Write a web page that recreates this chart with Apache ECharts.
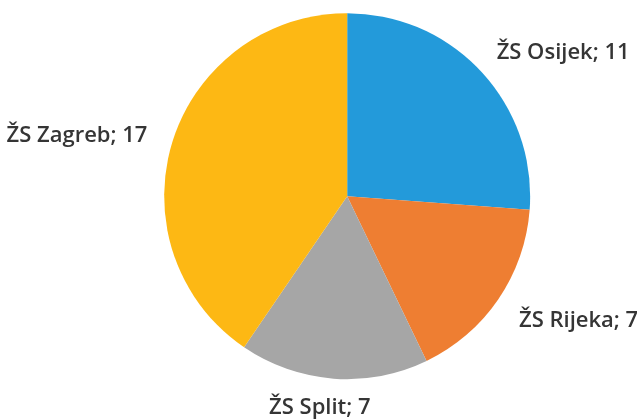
<!DOCTYPE html>
<html>
<head>
<meta charset="utf-8">
<script src="https://cdn.jsdelivr.net/npm/echarts@6/dist/echarts.min.js"></script>
<style>
html,body{margin:0;padding:0;background:#fff;}
#chart{width:637px;height:420px;}
</style>
</head>
<body>
<div id="chart"></div>
<script>
const categories = ['ŽS Osijek', 'ŽS Rijeka', 'ŽS Split', 'ŽS Zagreb'];
const values = [11, 7, 7, 17];
const colors = ['#239ADA', '#EE7E32', '#A6A6A6', '#FDB814'];
// small nudges of the outside labels (px)
const labelNudge = [[-8, -2], [-5, 7], [44, 4], [4, 1]];

const chart = echarts.init(document.getElementById('chart'));
chart.setOption({
  animation: false,
  series: [{
    type: 'pie',
    center: ['54.5%', '46.7%'],
    radius: 183,
    startAngle: 90,
    clockwise: true,
    data: categories.map((c, i) => ({ name: c, value: values[i], itemStyle: { color: colors[i] } })),
    itemStyle: { borderColor: '#fff', borderWidth: 0 },
    label: {
      show: true,
      position: 'outside',
      formatter: '{b}; {c}',
      fontFamily: 'Open Sans',
      fontWeight: 600,
      fontSize: 22,
      color: '#353535',
      overflow: 'none'
    },
    labelLine: { show: false, length: 25, length2: 0 },
    labelLayout: function (p) {
      const n = labelNudge[p.dataIndex];
      return { dx: n[0], dy: n[1] };
    }
  }]
});
</script>
</body>
</html>
